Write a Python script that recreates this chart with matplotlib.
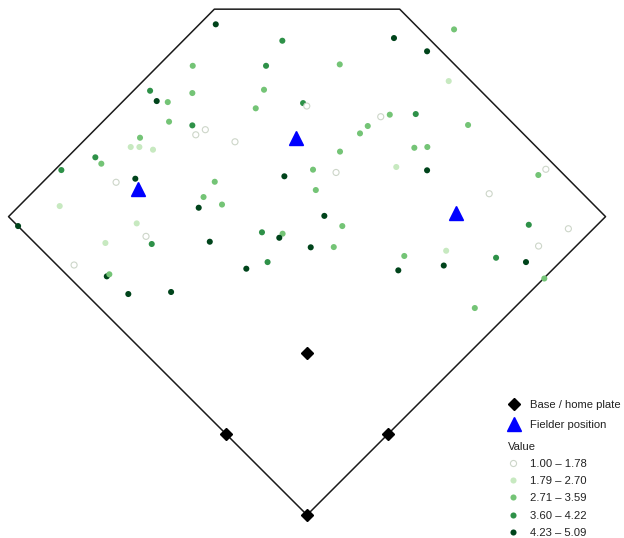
import matplotlib
matplotlib.use("Agg")
import matplotlib.pyplot as plt
from matplotlib.lines import Line2D
import numpy as np

# Field outline (feet, home plate at origin)
field_x = [0, -234.5, -72.8, 72.8, 234.5, 0]
field_y = [0, 234.4, 397.4, 397.4, 234.4, 0]

# Bases: home, first, second, third
base_x = [0, 63.6, 0, -63.6]
base_y = [0, 63.6, 127.3, 63.6]

# Fielder positions
fielder_x = [-132.5, -8.4, 116.7]
fielder_y = [255.9, 296.5, 237.2]

# Batted-ball landing points
hit_x = [-71.7, -19.4, -89.8, -32.2, -90.1, -33.8, -109.4, -40.3, -3.1, -0.2,
         -108.4, -90.1, -79.9, -87.4, -56.6, -123.3, -118.1, -131.2, -138.5, -131.7,
         -121.0, -166.3, -161.6, -193.0, -134.9, -150.0, -194.3, -227.0, -133.8, -126.5,
         -122.0, -158.4, -183.0, -157.3, -155.3, -140.4, -106.8, -72.5, -81.3, -66.8,
         -85.1, -17.8, 4.7, 6.9, -35.4, -19.2, -21.8, -76.4, 2.9, -31.0,
         -47.7, 115.5, 68.3, 94.3, 25.7, 111.3, 57.9, 65.0, 85.4, 47.7,
         41.6, 126.5, 25.9, 84.3, 94.5, 22.8, 70.1, 94.3, 181.7, 187.6,
         143.1, 13.6, 27.7, 174.2, 205.3, 21.0, 109.3, 181.9, 76.4, 148.5,
         71.7, 107.4, 172.0, 186.4, 131.8]
hit_y = [385.5, 372.6, 352.9, 352.9, 331.5, 334.1, 324.4, 319.5, 323.6, 321.3,
         309.0, 306.1, 302.7, 298.7, 293.2, 333.3, 325.2, 296.4, 289.1, 289.1,
         287.0, 281.0, 276.0, 271.0, 264.2, 261.4, 242.7, 227.0, 229.1, 218.9,
         212.9, 213.7, 196.4, 187.5, 189.1, 173.6, 175.2, 261.8, 249.8, 243.9,
         241.4, 266.1, 271.3, 255.3, 222.1, 221.0, 217.8, 214.7, 210.3, 198.7,
         193.5, 381.5, 374.7, 364.3, 354.0, 340.9, 312.9, 314.5, 315.0, 305.6,
         299.8, 306.4, 285.5, 288.5, 289.1, 269.1, 273.4, 270.8, 267.1, 271.6,
         252.4, 235.0, 227.0, 228.0, 224.9, 210.5, 207.6, 211.3, 203.5, 202.1,
         192.2, 196.0, 198.7, 185.8, 162.6]
hit_value = [4.71, 3.88, 3.12, 3.95, 2.94, 3.27, 3.41, 2.86, 3.72, 1.35,
             3.05, 4.08, 1.52, 1.18, 1.66, 3.81, 4.56, 3.33, 2.15, 2.41,
             1.96, 4.14, 2.97, 3.67, 4.88, 1.41, 2.58, 4.35, 2.27, 1.27,
             3.92, 2.03, 1.09, 5.09, 3.48, 4.62, 4.29, 3.18, 2.79, 3.36,
             4.47, 4.93, 3.09, 3.52, 3.76, 2.88, 4.41, 4.74, 4.52, 4.01,
             4.66, 3.22, 4.83, 4.38, 3.44, 2.49, 1.58, 2.91, 3.85, 3.15,
             3.57, 3.01, 2.83, 3.29, 3.39, 1.73, 2.34, 4.24, 3.11, 1.22,
             1.47, 4.97, 2.95, 3.99, 1.04, 3.24, 1.88, 1.61, 3.46, 3.63,
             4.58, 4.31, 4.79, 2.73, 3.19]

class_breaks = [1.79, 2.71, 3.60, 4.23]
class_labels = ["1.00 \u2013 1.78", "1.79 \u2013 2.70", "2.71 \u2013 3.59",
                "3.60 \u2013 4.22", "4.23 \u2013 5.09"]
class_face = ["#ffffff", "#c7e9c0", "#74c476", "#2e9148", "#00441b"]
class_edge = ["#cdd6c9", "#c7e9c0", "#74c476", "#2e9148", "#00441b"]
class_lw = [0.8, 0, 0, 0, 0]

fig = plt.figure(figsize=(6.24, 5.38), dpi=100)
ax = fig.add_axes([0, 0, 1, 1])
ax.set_xlim(-241.2, 249.0)
ax.set_ylim(-18.07, 404.6)
ax.axis("off")

ax.plot(field_x, field_y, color="#1a1a1a", lw=1.1, zorder=1)

cls = np.digitize(hit_value, class_breaks)
faces = [class_face[c] for c in cls]
edges = [class_edge[c] for c in cls]
lws = [class_lw[c] for c in cls]
ax.scatter(hit_x, hit_y, s=19, c=faces, edgecolors=edges, linewidths=lws, zorder=2)

ax.plot(base_x, base_y, ls="", marker="D", color="black", markersize=6.6, zorder=3)
ax.plot(fielder_x, fielder_y, ls="", marker="^", color="#0000ff", markersize=9.6, zorder=3)

font = "Liberation Sans"
fs = 8.1
h1 = [Line2D([], [], ls="", marker="D", color="black", markersize=6.6),
      Line2D([], [], ls="", marker="^", color="#0000ff", markersize=9.6)]
leg1 = fig.legend(h1, ["Base / home plate", "Fielder position"],
                  loc="upper left", bbox_to_anchor=(502.5 / 624, 1 - 394 / 538),
                  frameon=False, borderpad=0, handlelength=1.0, handletextpad=0.95,
                  labelspacing=0.88, prop={"family": font, "size": fs},
                  labelcolor="#222222")

h2 = [Line2D([], [], ls="", marker="o", markersize=4.4, markerfacecolor=class_face[i],
             markeredgecolor=class_edge[i], markeredgewidth=class_lw[i])
      for i in range(5)]
leg2 = fig.legend(h2, class_labels, loc="upper left",
                  bbox_to_anchor=(502 / 624, 1 - 436 / 538),
                  frameon=False, borderpad=0, handlelength=1.0, handletextpad=0.95,
                  labelspacing=0.66, title="Value", alignment="left",
                  prop={"family": font, "size": fs},
                  title_fontproperties={"family": font, "size": fs},
                  labelcolor="#222222")
leg2.get_title().set_color("#222222")
leg2._legend_box.sep = 5

fig.savefig("out.png", dpi=100)
